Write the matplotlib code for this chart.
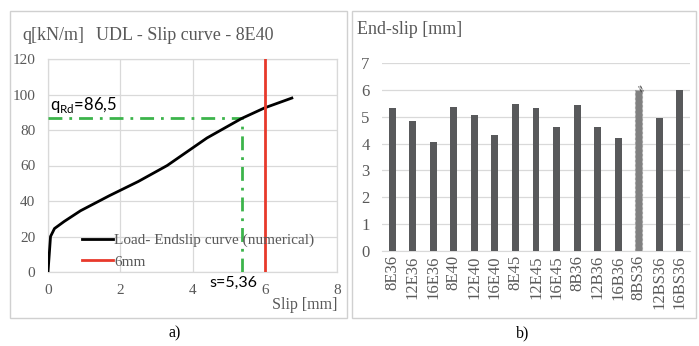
import matplotlib
matplotlib.use("Agg")
import matplotlib.pyplot as plt
from matplotlib.patches import Rectangle
import numpy as np

# ---- data: left panel ----
slip = [0.0, 0.07, 0.18, 0.45, 0.9, 1.7, 2.5, 3.3, 4.4, 5.36, 6.0, 6.75]
load = [0.0, 20.0, 24.5, 28.5, 34.5, 43.0, 51.0, 60.0, 75.5, 86.5, 92.5, 98.0]
q_rd = 86.5
s_rd = 5.36
limit_slip = 6.0

# ---- data: right panel ----
specimens = ["8E36", "12E36", "16E36", "8E40", "12E40", "16E40", "8E45", "12E45",
             "16E45", "8B36", "12B36", "16B36", "8BS36", "12BS36", "16BS36"]
end_slip = [5.32, 4.83, 4.06, 5.36, 5.05, 4.33, 5.46, 5.32, 4.60, 5.43, 4.60, 4.22,
            6.0, 4.96, 6.0]
capped = "8BS36"

W, H = 699, 346
fig = plt.figure(figsize=(W / 100, H / 100), dpi=100)
serif = "Liberation Serif"
sans = "Lato"
tick_col = "#595959"
grid_col = "#d9d9d9"

def fx(px):
    return px / W

def fy(py):
    return 1 - py / H

# panel frames
fig.patches.append(Rectangle((fx(10), fy(318)), fx(337), (318 - 11) / H,
                             transform=fig.transFigure, fill=False,
                             edgecolor="#d0d0d0", lw=1.0))
fig.patches.append(Rectangle((fx(352), fy(318)), fx(344), (318 - 11) / H,
                             transform=fig.transFigure, fill=False,
                             edgecolor="#d0d0d0", lw=1.0))

# ---------------- left panel ----------------
ax = fig.add_axes([fx(48), fy(272), (337 - 48) / W, (272 - 59) / H])
ax.set_xlim(0, 8)
ax.set_ylim(0, 120)
ax.set_xticks([0, 2, 4, 6, 8])
ax.set_yticks(np.arange(0, 121, 20))
ax.grid(True, color=grid_col, lw=0.9)
ax.set_axisbelow(True)
for s in ax.spines.values():
    s.set_color(grid_col)
    s.set_linewidth(0.9)
ax.tick_params(length=0, labelsize=11, labelcolor=tick_col)
ax.tick_params(axis="y", pad=9)
ax.tick_params(axis="x", pad=9)
for lbl in ax.get_xticklabels() + ax.get_yticklabels():
    lbl.set_fontfamily(serif)

ax.plot([0, s_rd], [q_rd, q_rd], color="#3cb44b", lw=2,
        linestyle=(0, (5, 2.5, 1, 2.5)), zorder=3)
ax.plot([s_rd, s_rd], [0, q_rd], color="#3cb44b", lw=2,
        linestyle=(0, (5, 2.5, 1, 2.5)), zorder=3)
l1, = ax.plot(slip, load, color="black", lw=2, zorder=4,
              label="Load- Endslip curve (numerical)")
l2 = ax.axvline(limit_slip, color="#e8392b", lw=2, zorder=4, label="6mm")
ax.set_ylim(0, 120)

leg = ax.legend(handles=[l1, l2], loc="lower left", bbox_to_anchor=(0.118, 0.015),
                frameon=False, prop={"family": serif, "size": 11},
                handlelength=2.0, handletextpad=0.1, labelspacing=0.5,
                borderpad=0, borderaxespad=0)
for t in leg.get_texts():
    t.set_color(tick_col)

ax.text(0.05, 88.5, r"q$_{\mathregular{Rd}}$=86,5", fontsize=12, family=sans,
        color="black", va="bottom", ha="left")
ax.text(5.8, -2.0, "s=5,36", fontsize=11.5, family=sans, color="black",
        va="top", ha="right", clip_on=False)

fig.text(fx(22), fy(35), "q[kN/m]", family=serif, fontsize=13, color=tick_col,
         va="center", ha="left")
fig.text(fx(96), fy(35), "UDL - Slip curve - 8E40", family=serif, fontsize=13,
         color=tick_col, va="center", ha="left")
fig.text(fx(337), fy(305), "Slip [mm]", family=serif, fontsize=11.5, color=tick_col,
         va="center", ha="right")
fig.text(fx(175), fy(333), "a)", family=serif, fontsize=11.5, color="black",
         va="center", ha="center")

# ---------------- right panel ----------------
bx = fig.add_axes([fx(382), fy(251), (690 - 382) / W, (251 - 63) / H])
xs = np.arange(len(specimens))
colors = ["#808080" if s == capped else "#58595b" for s in specimens]
bars = bx.bar(xs, end_slip, width=0.34, color=colors, zorder=3)
for b, s in zip(bars, specimens):
    if s == capped:
        b.set_edgecolor("#a0a0a0")
        b.set_linestyle((0, (2, 2)))
        b.set_linewidth(0.8)
        bx.text(b.get_x() + b.get_width() / 2, b.get_height() + 0.02, "≈",
                rotation=-60, fontsize=8, color="#404040", ha="center",
                va="center", family="DejaVu Sans", zorder=5)
bx.set_xlim(-0.5, len(specimens) - 0.5)
bx.set_ylim(0, 7)
bx.set_yticks(range(0, 8))
bx.set_xticks(xs)
bx.set_xticklabels(specimens, rotation=90, family=serif, fontsize=12.5,
                   color=tick_col)
for lbl in bx.get_yticklabels():
    lbl.set_fontfamily(serif)
bx.tick_params(length=0, labelsize=12, labelcolor=tick_col)
bx.tick_params(axis="y", pad=9)
bx.tick_params(axis="x", pad=3)
bx.grid(True, axis="y", color=grid_col, lw=0.9)
bx.set_axisbelow(True)
for k in ["top", "left", "right"]:
    bx.spines[k].set_visible(False)
bx.spines["bottom"].set_color(grid_col)

fig.text(fx(357), fy(29), "End-slip [mm]", family=serif, fontsize=13,
         color=tick_col, va="center", ha="left")
fig.text(fx(523), fy(333), "b)", family=serif, fontsize=11.5, color="black",
         va="center", ha="center")

fig.savefig("out.png", dpi=100)
